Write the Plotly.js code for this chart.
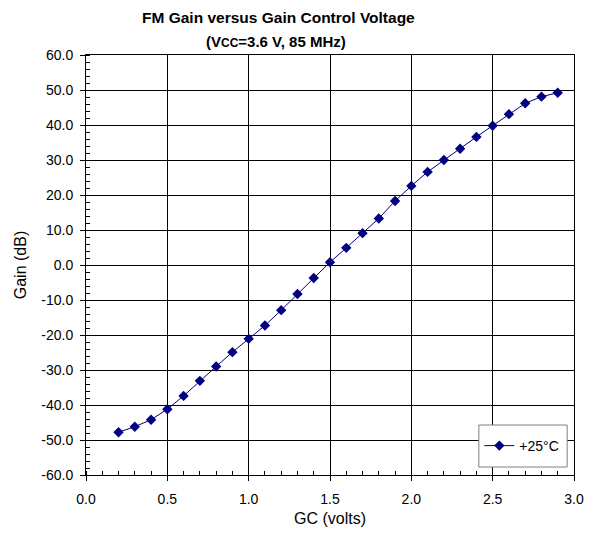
<!DOCTYPE html>
<html>
<head>
<meta charset="utf-8">
<script src="https://cdn.plot.ly/plotly-3.0.1.min.js"></script>
<style>html,body{margin:0;padding:0;background:#fff;}</style>
</head>
<body>
<div id="chart" style="width:594px;height:534px;"></div>
<script>
const gcVolts = [0.2,0.3,0.4,0.5,0.6,0.7,0.8,0.9,1.0,1.1,1.2,1.3,1.4,1.5,1.6,1.7,1.8,1.9,2.0,2.1,2.2,2.3,2.4,2.5,2.6,2.7,2.8,2.9];
const gain25C = [-47.8,-46.2,-44.2,-41.2,-37.4,-33.1,-29.0,-24.9,-21.1,-17.3,-12.9,-8.3,-3.7,0.8,4.9,9.1,13.3,18.3,22.6,26.6,30.0,33.2,36.6,39.8,43.1,46.2,48.1,49.2];
const seriesName = '+25°C';
const xTickVals = [0, 0.5, 1, 1.5, 2, 2.5, 3];
const xTickText = ['0.0','0.5','1.0','1.5','2.0','2.5','3.0'];
const yTickVals = [-60,-50,-40,-30,-20,-10,0,10,20,30,40,50,60];
const yTickText = ['-60.0','-50.0','-40.0','-30.0','-20.0','-10.0','0.0','10.0','20.0','30.0','40.0','50.0','60.0'];
const titleText = 'FM Gain versus Gain Control Voltage';
const subtitleText = '(V<span style="font-size:12px">CC</span>=3.6 V, 85 MHz)';
const xLabel = 'GC (volts)';
const yLabel = 'Gain (dB)';

const font = 'Liberation Sans, Arial, sans-serif';
const trace = {
  x: gcVolts, y: gain25C, name: seriesName, type: 'scatter', mode: 'lines+markers',
  line: {color: '#000080', width: 1},
  marker: {color: '#000080', symbol: 'diamond', size: 8}
};
const layout = {
  width: 594, height: 534,
  margin: {l: 86, r: 20, t: 55, b: 59},
  paper_bgcolor: '#fff', plot_bgcolor: '#fff',
  font: {family: font, size: 14, color: '#000'},
  showlegend: true,
  legend: {x: 0.806, xanchor: 'left', y: 0.069, yanchor: 'middle',
    borderwidth: 0, bgcolor: 'rgba(0,0,0,0)', font: {size: 14, family: font}, itemwidth: 30},
  shapes: [
    {type: 'rect', xref: 'paper', yref: 'paper', x0: 0.805, x1: 0.986, y0: 0.019, y1: 0.119,
     fillcolor: '#fff', line: {color: '#808080', width: 1}, layer: 'above'}
  ],
  xaxis: {
    range: [0, 3], tickmode: 'array', tickvals: xTickVals, ticktext: xTickText,
    showgrid: true, gridcolor: '#000', gridwidth: 1,
    showline: true, linecolor: '#000', linewidth: 1, mirror: true,
    ticks: 'outside', ticklen: 5, tickcolor: '#000', ticklabelstandoff: 6,
    tickfont: {size: 14, family: font},
    minor: {dtick: 0.1, tick0: 0, ticks: 'inside', ticklen: 4, tickcolor: '#000', showgrid: false},
    zeroline: false,
    title: {text: xLabel, font: {size: 16, family: font}, standoff: 7}
  },
  yaxis: {
    range: [-60, 60], tickmode: 'array', tickvals: yTickVals, ticktext: yTickText,
    showgrid: true, gridcolor: '#000', gridwidth: 1,
    showline: true, linecolor: '#000', linewidth: 1, mirror: true,
    ticks: 'outside', ticklen: 5, tickcolor: '#000', ticklabelstandoff: 4,
    tickfont: {size: 14, family: font},
    minor: {dtick: 2, tick0: 0, ticks: 'inside', ticklen: 4, tickcolor: '#000', showgrid: false},
    zeroline: false,
    title: {text: yLabel, font: {size: 16, family: font}, standoff: 10}
  },
  annotations: [
    {text: '<b>' + titleText + '</b>', xref: 'paper', yref: 'paper', x: 0.395, y: 1.09,
     xanchor: 'center', yanchor: 'middle', showarrow: false, font: {size: 15.5, family: font}},
    {text: '<b>' + subtitleText + '</b>', xref: 'paper', yref: 'paper', x: 0.389, y: 1.033,
     xanchor: 'center', yanchor: 'middle', showarrow: false, font: {size: 15, family: font}}
  ]
};
Plotly.newPlot('chart', [trace], layout, {displayModeBar: false, staticPlot: true});
</script>
</body>
</html>
